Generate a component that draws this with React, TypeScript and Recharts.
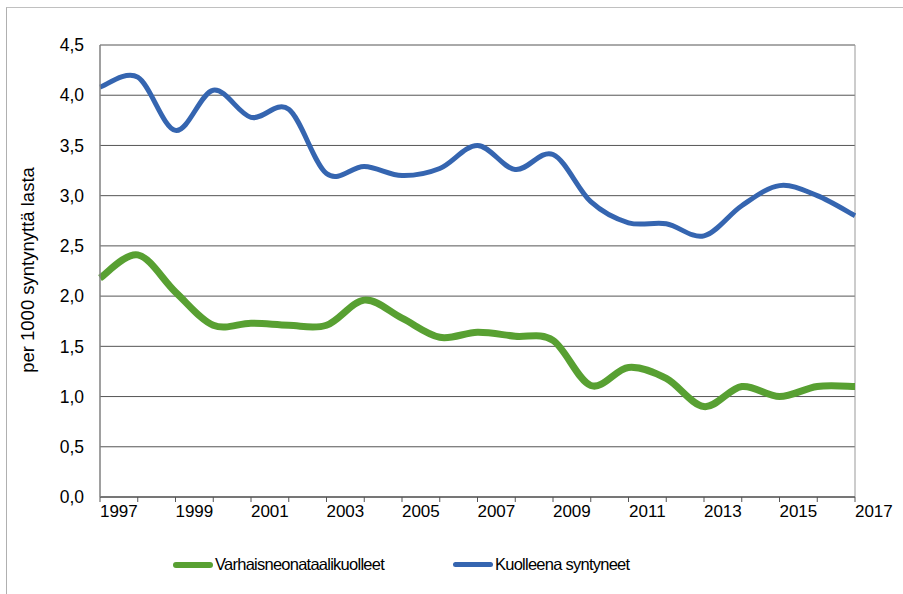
import React from "react";
import {
  LineChart,
  Line,
  XAxis,
  YAxis,
  CartesianGrid,
  ReferenceLine,
} from "recharts";

const years = [
  1997, 1998, 1999, 2000, 2001, 2002, 2003, 2004, 2005, 2006, 2007,
  2008, 2009, 2010, 2011, 2012, 2013, 2014, 2015, 2016, 2017,
];

// early neonatal deaths per 1000 births
const earlyNeonatal = [
  2.18, 2.41, 2.04, 1.71, 1.73, 1.71, 1.71, 1.96, 1.78, 1.59, 1.64,
  1.6, 1.56, 1.11, 1.29, 1.18, 0.9, 1.1, 1.0, 1.1, 1.1,
];

// stillbirths per 1000 births
const stillbirths = [
  4.08, 4.18, 3.65, 4.05, 3.78, 3.86, 3.22, 3.29, 3.2, 3.27, 3.5,
  3.26, 3.41, 2.94, 2.73, 2.72, 2.6, 2.9, 3.1, 3.0, 2.8,
];

const yTicks = [0, 0.5, 1, 1.5, 2, 2.5, 3, 3.5, 4, 4.5];

const data = years.map((year, i) => ({
  year,
  early: earlyNeonatal[i],
  still: stillbirths[i],
}));

const GREEN = "#58a032";
const BLUE = "#3565b0";
const FONT = '"Liberation Sans", Arial, sans-serif';

// Catmull-Rom style smoothing, like spreadsheet "smoothed line"
function smoothCurve(context: any) {
  let pts: number[][] = [];
  return {
    areaStart() {},
    areaEnd() {},
    lineStart() {
      pts = [];
    },
    lineEnd() {
      if (!pts.length) return;
      context.moveTo(pts[0][0], pts[0][1]);
      for (let i = 0; i < pts.length - 1; i++) {
        const p0 = pts[i - 1] || pts[i];
        const p1 = pts[i];
        const p2 = pts[i + 1];
        const p3 = pts[i + 2] || p2;
        context.bezierCurveTo(
          p1[0] + (p2[0] - p0[0]) / 6,
          p1[1] + (p2[1] - p0[1]) / 6,
          p2[0] - (p3[0] - p1[0]) / 6,
          p2[1] - (p3[1] - p1[1]) / 6,
          p2[0],
          p2[1]
        );
      }
    },
    point(x: number, y: number) {
      pts.push([+x, +y]);
    },
  };
}

const HALF_STEP = (855 - 100) / 20 / 2;

// year labels sit between tick marks, every second year
function YearTick(props: any) {
  const { x, payload } = props;
  if ((payload.value - 1997) % 2 !== 0) return null;
  return (
    <text
      x={x + HALF_STEP}
      y={517}
      textAnchor="middle"
      fontSize={17}
      fontFamily={FONT}
      fill="#000"
    >
      {payload.value}
    </text>
  );
}

function YLabel() {
  return (
    <text
      transform="translate(27 270) rotate(-90)"
      x={0}
      y={0}
      textAnchor="middle"
      dominantBaseline="central"
      fontSize={18.5}
      fontFamily={FONT}
      fill="#000"
    >
      per 1000 syntynyttä lasta
    </text>
  );
}

function LegendItem({ color, width, label, left }: any) {
  return (
    <div
      style={{
        position: "absolute",
        left,
        top: 555,
        display: "flex",
        alignItems: "center",
        fontSize: 16.5,
        letterSpacing: -0.75,
        fontFamily: FONT,
        color: "#000",
      }}
    >
      <div
        style={{
          width: 40,
          height: width,
          borderRadius: width / 2,
          background: color,
          marginRight: 2,
        }}
      />
      <span>{label}</span>
    </div>
  );
}

export default function App() {
  return (
    <div
      style={{
        position: "absolute",
        left: 0,
        top: 0,
        width: 903,
        height: 594,
        background: "#fff",
        fontFamily: FONT,
      }}
    >
      <div
        style={{
          position: "absolute",
          left: 6,
          top: 7,
          right: 0,
          bottom: 0,
          borderTop: "1px solid #c0c0c0",
          borderLeft: "1px solid #b0b0b0",
        }}
      />
      <LineChart
        width={903}
        height={594}
        data={data}
        margin={{ top: 45, right: 48, bottom: 0, left: 0 }}
      >
        <CartesianGrid vertical={false} stroke="#555" strokeWidth={1} />
        <XAxis
          dataKey="year"
          type="number"
          domain={[1997, 2017]}
          ticks={years}
          interval={0}
          height={97}
          tickSize={5}
          tickLine={{ stroke: "#555" }}
          axisLine={{ stroke: "#444" }}
          tick={<YearTick />}
        />
        <YAxis
          domain={[0, 4.5]}
          ticks={yTicks}
          width={100}
          tickLine={false}
          tickSize={6}
          tickMargin={10}
          axisLine={{ stroke: "#808080", strokeWidth: 1.5 }}
          tick={{ fontSize: 17.5, fill: "#000", fontFamily: FONT }}
          tickFormatter={(v: number) => v.toFixed(1).replace(".", ",")}
          label={<YLabel />}
        />
        <ReferenceLine x={2017} stroke="#999" />
        <Line
          dataKey="early"
          type={smoothCurve as any}
          stroke={GREEN}
          strokeWidth={7}
          dot={false}
          activeDot={false}
          isAnimationActive={false}
        />
        <Line
          dataKey="still"
          type={smoothCurve as any}
          stroke={BLUE}
          strokeWidth={5}
          dot={false}
          activeDot={false}
          isAnimationActive={false}
        />
      </LineChart>
      <LegendItem color={GREEN} width={6} label="Varhaisneonataalikuolleet" left={173} />
      <LegendItem color={BLUE} width={5} label="Kuolleena syntyneet" left={453} />
    </div>
  );
}
